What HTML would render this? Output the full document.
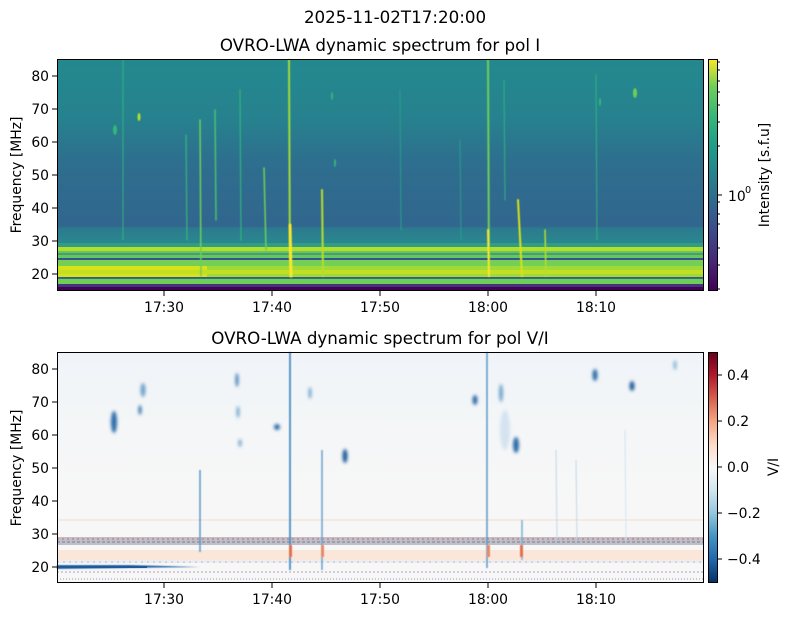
<!DOCTYPE html>
<html><head><meta charset="utf-8"><style>
body{margin:0;background:#fff;}
svg text{font-family:"DejaVu Sans","Liberation Sans",sans-serif;fill:#000;}
</style></head><body>
<svg width="790" height="617" viewBox="0 0 790 617" xmlns="http://www.w3.org/2000/svg">
<defs>
<linearGradient id="bgI" x1="0" y1="59" x2="0" y2="291" gradientUnits="userSpaceOnUse">
<stop offset="0" stop-color="#23898e"/>
<stop offset="0.25" stop-color="#26828e"/>
<stop offset="0.45" stop-color="#2e6e8e"/>
<stop offset="0.72" stop-color="#31668e"/>
<stop offset="0.73" stop-color="#2c7a8e"/>
<stop offset="0.78" stop-color="#2a858e"/>
<stop offset="1" stop-color="#2a858e"/>
</linearGradient>
<linearGradient id="vir" x1="0" y1="1" x2="0" y2="0">
<stop offset="0" stop-color="#440154"/><stop offset="0.13" stop-color="#482878"/>
<stop offset="0.25" stop-color="#3e4989"/><stop offset="0.38" stop-color="#31688e"/>
<stop offset="0.5" stop-color="#26828e"/><stop offset="0.63" stop-color="#1f9e89"/>
<stop offset="0.75" stop-color="#35b779"/><stop offset="0.88" stop-color="#6ece58"/>
<stop offset="1" stop-color="#fde725"/></linearGradient>
<linearGradient id="rdbu" x1="0" y1="1" x2="0" y2="0">
<stop offset="0" stop-color="#053061"/><stop offset="0.1" stop-color="#2166ac"/>
<stop offset="0.2" stop-color="#4393c3"/><stop offset="0.3" stop-color="#92c5de"/>
<stop offset="0.4" stop-color="#d1e5f0"/><stop offset="0.5" stop-color="#f7f7f7"/>
<stop offset="0.6" stop-color="#fddbc7"/><stop offset="0.7" stop-color="#f4a582"/>
<stop offset="0.8" stop-color="#d6604d"/><stop offset="0.9" stop-color="#b2182b"/>
<stop offset="1" stop-color="#67001f"/></linearGradient>
<linearGradient id="bgV" x1="0" y1="352" x2="0" y2="583" gradientUnits="userSpaceOnUse">
<stop offset="0" stop-color="#f0f4f8"/><stop offset="0.35" stop-color="#f4f6f7"/>
<stop offset="0.6" stop-color="#f7f7f7"/><stop offset="1" stop-color="#f7f7f7"/></linearGradient>
<filter id="bl"><feGaussianBlur stdDeviation="1.5"/></filter>
<filter id="bl1"><feGaussianBlur stdDeviation="0.6"/></filter>
</defs>

<text x="395" y="23" font-size="16.7" text-anchor="middle">2025-11-02T17:20:00</text>
<text x="380" y="51" font-size="16.7" text-anchor="middle">OVRO-LWA dynamic spectrum for pol I</text>

<rect x="57" y="59" width="647" height="232" fill="url(#bgI)"/>
<rect x="57" y="247" width="647" height="4" fill="#b5de2b"/>
<rect x="57" y="251" width="647" height="8" fill="#5ec962"/>
<rect x="57" y="258" width="647" height="2" fill="#3b518b"/>
<rect x="57" y="260" width="647" height="6" fill="#73d055"/>
<rect x="57" y="266" width="647" height="12" fill="#a0da39"/>
<rect x="57" y="266" width="150" height="12" fill="#d8e219"/>
<rect x="57" y="270" width="647" height="4" fill="#c2df23"/>
<rect x="57" y="277" width="647" height="1.5" fill="#38588c"/>
<rect x="57" y="279" width="647" height="5" fill="#6ece58"/>
<rect x="57" y="284" width="647" height="3" fill="#46337e"/>
<rect x="57" y="287" width="647" height="4" fill="#440154"/>
<rect x="57" y="243" width="647" height="4" fill="#35b779" opacity="0.5"/>
<line x1="57" y1="254" x2="704" y2="254" stroke="#3e4989" stroke-width="0.8"/>
<g stroke-linecap="round" filter="url(#bl1)">
<line x1="289" y1="60" x2="290" y2="276" stroke="#a0da39" stroke-width="2"/>
<line x1="290" y1="225" x2="291" y2="276" stroke="#fde725" stroke-width="3"/>
<line x1="488" y1="60" x2="489" y2="276" stroke="#6ece58" stroke-width="2"/>
<line x1="488" y1="230" x2="489" y2="276" stroke="#fde725" stroke-width="2"/>
<line x1="322" y1="190" x2="323" y2="276" stroke="#b5de2b" stroke-width="2"/>
<line x1="518" y1="200" x2="522" y2="276" stroke="#d8e219" stroke-width="2"/>
<line x1="200" y1="120" x2="201" y2="276" stroke="#6ece58" stroke-width="1.5"/>
<line x1="215" y1="110" x2="216" y2="220" stroke="#4ac16d" stroke-width="1.5"/>
<line x1="264" y1="168" x2="266" y2="250" stroke="#6ece58" stroke-width="1.5"/>
<line x1="545" y1="230" x2="546" y2="276" stroke="#b5de2b" stroke-width="1.5"/>
<line x1="186" y1="135" x2="187" y2="240" stroke="#35b779" stroke-width="1.2"/>
<line x1="240" y1="90" x2="241" y2="240" stroke="#2fb47c" stroke-width="1.2"/>
<line x1="123" y1="60" x2="123" y2="240" stroke="#2fb47c" stroke-width="1"/>
<line x1="596" y1="75" x2="597" y2="240" stroke="#2fb47c" stroke-width="1"/>
<line x1="504" y1="80" x2="505" y2="200" stroke="#2fb47c" stroke-width="1"/>
<line x1="460" y1="140" x2="461" y2="240" stroke="#2a9e89" stroke-width="1"/>
<line x1="400" y1="90" x2="401" y2="230" stroke="#2a9e89" stroke-width="1"/>
</g>
<g filter="url(#bl1)" fill="#6ece58">
<ellipse cx="139" cy="117" rx="1.5" ry="4" fill="#b5de2b"/>
<ellipse cx="115" cy="130" rx="2" ry="5" fill="#35b779"/>
<ellipse cx="635" cy="93" rx="2" ry="5"/>
<ellipse cx="335" cy="163" rx="1" ry="4" fill="#35b779"/>
<ellipse cx="600" cy="102" rx="1" ry="4" fill="#35b779"/>
<ellipse cx="332" cy="96" rx="1" ry="4" fill="#35b779"/>
</g>
<rect x="57.5" y="59.5" width="646" height="231" fill="none" stroke="#000" stroke-width="1"/>
<g font-size="13.9">
<g stroke="#000">
<line x1="52" y1="76" x2="57" y2="76"/><line x1="52" y1="109" x2="57" y2="109"/>
<line x1="52" y1="142" x2="57" y2="142"/><line x1="52" y1="175" x2="57" y2="175"/>
<line x1="52" y1="208" x2="57" y2="208"/><line x1="52" y1="241" x2="57" y2="241"/>
<line x1="52" y1="274" x2="57" y2="274"/>
<line x1="164" y1="291" x2="164" y2="296"/><line x1="272" y1="291" x2="272" y2="296"/>
<line x1="380" y1="291" x2="380" y2="296"/><line x1="488" y1="291" x2="488" y2="296"/>
<line x1="596" y1="291" x2="596" y2="296"/>
</g>
<text x="49" y="81" text-anchor="end">80</text><text x="49" y="114" text-anchor="end">70</text>
<text x="49" y="147" text-anchor="end">60</text><text x="49" y="180" text-anchor="end">50</text>
<text x="49" y="213" text-anchor="end">40</text><text x="49" y="246" text-anchor="end">30</text>
<text x="49" y="279" text-anchor="end">20</text>
<text x="164" y="312" text-anchor="middle">17:30</text><text x="272" y="312" text-anchor="middle">17:40</text>
<text x="380" y="312" text-anchor="middle">17:50</text><text x="488" y="312" text-anchor="middle">18:00</text>
<text x="596" y="312" text-anchor="middle">18:10</text>
<text transform="translate(21,175) rotate(-90)" text-anchor="middle">Frequency [MHz]</text>
</g>
<rect x="708" y="59" width="10" height="232" fill="url(#vir)"/>
<rect x="708.5" y="59.5" width="9" height="231" fill="none" stroke="#000"/>
<g stroke="#000">
<line x1="718" y1="195" x2="722" y2="195"/>
<line x1="718" y1="62" x2="720" y2="62"/><line x1="718" y1="70" x2="720" y2="70"/>
<line x1="718" y1="81" x2="720" y2="81"/><line x1="718" y1="92" x2="720" y2="92"/>
<line x1="718" y1="105" x2="720" y2="105"/><line x1="718" y1="122" x2="720" y2="122"/>
<line x1="718" y1="146" x2="720" y2="146"/><line x1="718" y1="202" x2="720" y2="202"/>
<line x1="718" y1="214" x2="720" y2="214"/><line x1="718" y1="224" x2="720" y2="224"/>
<line x1="718" y1="248" x2="720" y2="248"/><line x1="718" y1="265" x2="720" y2="265"/>
<line x1="718" y1="289" x2="720" y2="289"/>
</g>
<text x="728" y="201" font-size="13.9">10</text><text x="745" y="193" font-size="9.7">0</text>
<text transform="translate(769,175) rotate(-90)" text-anchor="middle" font-size="13.9">Intensity [s.f.u]</text>

<text x="380" y="344" font-size="16.7" text-anchor="middle">OVRO-LWA dynamic spectrum for pol V/I</text>
<rect x="57" y="352" width="647" height="231" fill="url(#bgV)"/>
<rect x="57" y="537" width="647" height="8" fill="#e8c9c0"/>
<rect x="57" y="537" width="647" height="8" fill="#7fa8cc" opacity="0.35"/>
<line x1="57" y1="539" x2="704" y2="539" stroke="#c0504a" stroke-width="1" stroke-dasharray="2 3" opacity="0.7"/>
<line x1="57" y1="542" x2="704" y2="542" stroke="#3a6fb0" stroke-width="1" stroke-dasharray="3 2" opacity="0.7"/>
<rect x="57" y="550" width="647" height="10" fill="#fbe6da"/>
<rect x="57" y="560" width="647" height="3" fill="#e9eef4"/>
<line x1="57" y1="562" x2="704" y2="562" stroke="#d6604d" stroke-width="0.8" stroke-dasharray="2 4" opacity="0.6"/>
<path d="M57 565 L130 565 L200 567 L57 569 Z" fill="#2a6aa8" filter="url(#bl1)"/>
<rect x="57" y="566" width="90" height="2" fill="#1c5a9a"/>
<line x1="57" y1="572" x2="704" y2="572" stroke="#8c6a86" stroke-width="1" stroke-dasharray="2 2" opacity="0.6"/>
<line x1="57" y1="579" x2="704" y2="579" stroke="#6a7a9c" stroke-width="1" stroke-dasharray="1 2" opacity="0.7"/>
<line x1="57" y1="520" x2="704" y2="520" stroke="#efdcd4" stroke-width="1"/>
<g filter="url(#bl1)">
<line x1="290" y1="352" x2="290" y2="570" stroke="#4a8cc4" stroke-width="1.8"/>
<line x1="487" y1="352" x2="487" y2="568" stroke="#5a98c8" stroke-width="1.5"/>
<line x1="200" y1="470" x2="200" y2="552" stroke="#5a98c8" stroke-width="1.5"/>
<line x1="322" y1="450" x2="322" y2="570" stroke="#6aa2cc" stroke-width="1.5"/>
<line x1="522" y1="520" x2="522" y2="560" stroke="#7ab0d4" stroke-width="1.5"/>
<line x1="556" y1="450" x2="557" y2="540" stroke="#c0d8ea" stroke-width="1"/>
<line x1="576" y1="460" x2="577" y2="540" stroke="#c0d8ea" stroke-width="1"/>
<line x1="625" y1="430" x2="626" y2="540" stroke="#d1e5f0" stroke-width="1"/>
<rect x="289" y="545" width="3" height="12" fill="#e0714f"/>
<rect x="321" y="545" width="3" height="12" fill="#e58a68"/>
<rect x="487" y="545" width="3" height="12" fill="#e58a68"/>
<rect x="520" y="545" width="3" height="12" fill="#e0714f"/>
</g>
<g filter="url(#bl)">
<ellipse cx="114" cy="422" rx="3" ry="11" fill="#2a6aa8"/>
<ellipse cx="143" cy="390" rx="2.5" ry="7" fill="#6aa2cc"/>
<ellipse cx="140" cy="410" rx="1.5" ry="5" fill="#2a6aa8"/>
<ellipse cx="237" cy="380" rx="1.5" ry="7" fill="#3a7ab8"/>
<ellipse cx="238" cy="412" rx="1.5" ry="6" fill="#6aa2cc"/>
<ellipse cx="277" cy="427" rx="3" ry="3" fill="#2a6aa8"/>
<ellipse cx="310" cy="393" rx="1.5" ry="6" fill="#6aa2cc"/>
<ellipse cx="345" cy="456" rx="2.5" ry="7" fill="#1c5a9a"/>
<ellipse cx="475" cy="400" rx="2.5" ry="5" fill="#2a6aa8"/>
<ellipse cx="501" cy="393" rx="2" ry="9" fill="#6aa2cc"/>
<ellipse cx="516" cy="445" rx="3" ry="8" fill="#2a6aa8"/>
<ellipse cx="505" cy="430" rx="5" ry="20" fill="#c6dcec" opacity="0.7"/>
<ellipse cx="595" cy="375" rx="2.5" ry="6" fill="#2a6aa8"/>
<ellipse cx="632" cy="386" rx="2.5" ry="5" fill="#1c5a9a"/>
<ellipse cx="675" cy="365" rx="1.5" ry="5" fill="#7ab0d4"/>
<ellipse cx="240" cy="443" rx="1.5" ry="4" fill="#6aa2cc"/>
</g>
<rect x="57.5" y="352.5" width="646" height="230" fill="none" stroke="#000"/>
<g font-size="13.9">
<g stroke="#000">
<line x1="52" y1="369" x2="57" y2="369"/><line x1="52" y1="402" x2="57" y2="402"/>
<line x1="52" y1="435" x2="57" y2="435"/><line x1="52" y1="468" x2="57" y2="468"/>
<line x1="52" y1="501" x2="57" y2="501"/><line x1="52" y1="534" x2="57" y2="534"/>
<line x1="52" y1="567" x2="57" y2="567"/>
<line x1="164" y1="583" x2="164" y2="588"/><line x1="272" y1="583" x2="272" y2="588"/>
<line x1="380" y1="583" x2="380" y2="588"/><line x1="488" y1="583" x2="488" y2="588"/>
<line x1="596" y1="583" x2="596" y2="588"/>
</g>
<text x="49" y="374" text-anchor="end">80</text><text x="49" y="407" text-anchor="end">70</text>
<text x="49" y="440" text-anchor="end">60</text><text x="49" y="473" text-anchor="end">50</text>
<text x="49" y="506" text-anchor="end">40</text><text x="49" y="539" text-anchor="end">30</text>
<text x="49" y="572" text-anchor="end">20</text>
<text x="164" y="604" text-anchor="middle">17:30</text><text x="272" y="604" text-anchor="middle">17:40</text>
<text x="380" y="604" text-anchor="middle">17:50</text><text x="488" y="604" text-anchor="middle">18:00</text>
<text x="596" y="604" text-anchor="middle">18:10</text>
<text transform="translate(21,468) rotate(-90)" text-anchor="middle">Frequency [MHz]</text>
</g>
<rect x="708" y="352" width="10" height="231" fill="url(#rdbu)"/>
<rect x="708.5" y="352.5" width="9" height="230" fill="none" stroke="#000"/>
<g stroke="#000">
<line x1="718" y1="375" x2="722" y2="375"/><line x1="718" y1="421" x2="722" y2="421"/>
<line x1="718" y1="467" x2="722" y2="467"/><line x1="718" y1="513" x2="722" y2="513"/>
<line x1="718" y1="559" x2="722" y2="559"/>
</g>
<g font-size="13.9">
<text x="727" y="380">0.4</text><text x="727" y="426">0.2</text><text x="727" y="472">0.0</text>
<text x="727" y="518">−0.2</text><text x="727" y="564">−0.4</text>
<text transform="translate(778,467) rotate(-90)" text-anchor="middle">V/I</text>
</g>
</svg>
</body></html>
